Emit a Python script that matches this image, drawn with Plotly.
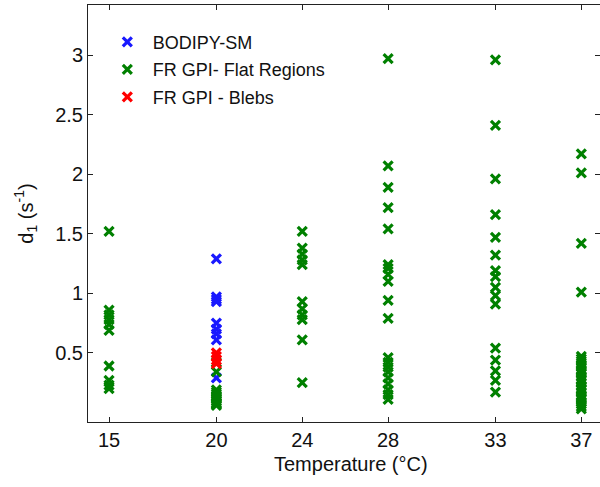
import plotly.graph_objects as go

# ---- data ----
temps_tick = [15, 20, 24, 28, 33, 37]
y_ticks = [0.5, 1, 1.5, 2, 2.5, 3]

bodipy_20 = [1.29, 0.97, 0.95, 0.93, 0.75, 0.70, 0.66, 0.61, 0.29]

fr_flat = {
    15: [1.52, 0.86, 0.82, 0.78, 0.74, 0.69, 0.39, 0.27, 0.23, 0.20],
    20: [0.42, 0.34, 0.19, 0.17, 0.155, 0.14, 0.125, 0.11, 0.095, 0.08, 0.07, 0.06],
    24: [1.52, 1.38, 1.33, 1.28, 1.24, 0.93, 0.87, 0.82, 0.78, 0.61, 0.25],
    28: [2.97, 2.07, 1.89, 1.72, 1.54, 1.24, 1.21, 1.16, 1.10, 0.94, 0.79,
         0.46, 0.42, 0.38, 0.34, 0.29, 0.24, 0.19, 0.15, 0.11],
    33: [2.96, 2.41, 1.96, 1.66, 1.47, 1.32, 1.19, 1.14, 1.05, 0.98, 0.91,
         0.54, 0.44, 0.35, 0.27, 0.17],
    37: [2.17, 2.01, 1.42, 1.01, 0.47, 0.45, 0.43, 0.40, 0.38, 0.36, 0.35,
         0.33, 0.30, 0.28, 0.27, 0.25, 0.22, 0.20, 0.19, 0.17, 0.14, 0.12,
         0.11, 0.09, 0.07, 0.05, 0.03],
}

blebs_20 = [0.50, 0.47, 0.44, 0.41]

fr_x = [t for t, vals in fr_flat.items() for _ in vals]
fr_y = [v for vals in fr_flat.values() for v in vals]

FONT = "Liberation Sans, Arial, sans-serif"


def marker(color):
    return dict(symbol="x-thin", size=9, color=color,
                line=dict(width=3.2, color=color))


fig = go.Figure()
fig.add_trace(go.Scatter(x=[20] * len(bodipy_20), y=bodipy_20, mode="markers",
                         name="BODIPY-SM", legendgroup="a",
                         marker=marker("rgb(25,25,255)")))
fig.add_trace(go.Scatter(x=fr_x, y=fr_y, mode="markers",
                         name="FR GPI- Flat Regions", legendgroup="b",
                         marker=marker("rgb(0,128,0)")))
fig.add_trace(go.Scatter(x=[20] * len(blebs_20), y=blebs_20, mode="markers",
                         name="FR GPI - Blebs", legendgroup="c",
                         marker=marker("rgb(255,0,0)")))

axis_common = dict(showline=True, linecolor="#222", linewidth=1, mirror="ticks",
                   ticks="inside", ticklen=5, tickcolor="#222", showgrid=False,
                   zeroline=False, tickfont=dict(family=FONT, size=20, color="#111"))

fig.update_layout(
    width=600, height=487,
    margin=dict(l=88, r=0, t=5, b=65),
    paper_bgcolor="white", plot_bgcolor="white",
    font=dict(family=FONT, color="#111"),
    xaxis=dict(range=[14.02, 37.87], tickvals=temps_tick,
               ticktext=[str(t) for t in temps_tick], **axis_common),
    yaxis=dict(range=[-0.08, 3.42], tickvals=y_ticks,
               ticktext=["0.5", "1", "1.5", "2", "2.5", "3"],
               title=dict(text="d<sub>1</sub> (s<sup>-1</sup>)",
                          font=dict(family=FONT, size=20, color="#111"),
                          standoff=16),
               **axis_common),
    showlegend=True,
    legend=dict(x=0.027, y=0.955, xanchor="left", yanchor="top",
                bgcolor="rgba(0,0,0,0)", borderwidth=0, itemwidth=41,
                font=dict(family=FONT, size=18, color="#111"),
                traceorder="grouped", tracegroupgap=1),
    annotations=[dict(text="Temperature (\u00b0C)", xref="paper", yref="paper",
                      x=0.514, y=0, yshift=-42, xanchor="center", yanchor="middle",
                      showarrow=False, font=dict(family=FONT, size=20, color="#111"))],
)

fig.write_html("out.html")
